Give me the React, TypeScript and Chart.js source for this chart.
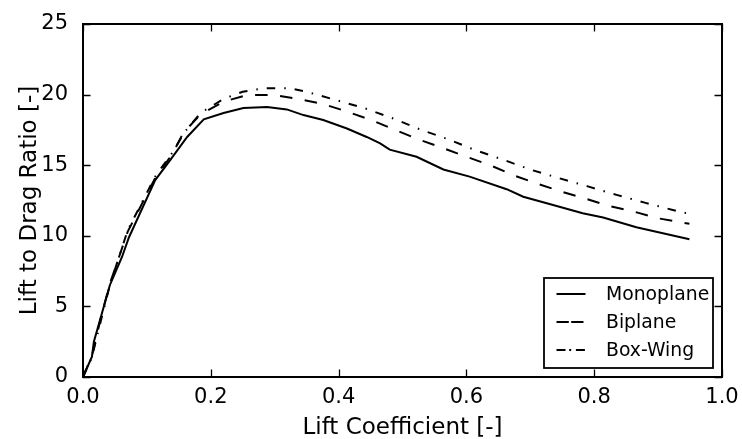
import React, { useEffect, useRef } from "react";
import { Chart, registerables } from "chart.js";

Chart.register(...registerables);

const seriesLabels = ["Monoplane", "Biplane", "Box-Wing"];

const monoX = [0, 0.014, 0.017, 0.042, 0.061, 0.072, 0.113, 0.137, 0.163, 0.189, 0.22, 0.251, 0.288, 0.319, 0.345, 0.376, 0.413, 0.444, 0.465, 0.48, 0.522, 0.564, 0.605, 0.663, 0.689, 0.73, 0.782, 0.814, 0.866, 0.949];
const monoY = [0, 1.44, 2.5, 6.5, 8.5, 9.9, 13.95, 15.4, 17.0, 18.25, 18.7, 19.05, 19.12, 18.95, 18.55, 18.2, 17.6, 17.0, 16.55, 16.1, 15.6, 14.7, 14.19, 13.3, 12.77, 12.25, 11.6, 11.3, 10.6, 9.75];

const biX = [0, 0.014, 0.028, 0.042, 0.07, 0.113, 0.14, 0.157, 0.184, 0.22, 0.257, 0.298, 0.335, 0.376, 0.413, 0.454, 0.486, 0.525, 0.564, 0.6, 0.637, 0.673, 0.71, 0.746, 0.785, 0.824, 0.863, 0.9, 0.949];
const biY = [0, 1.5, 4.2, 6.6, 10.3, 14.1, 15.8, 17.3, 18.6, 19.5, 19.97, 19.97, 19.7, 19.33, 18.8, 18.15, 17.54, 16.83, 16.2, 15.6, 15.0, 14.3, 13.7, 13.17, 12.65, 12.1, 11.7, 11.24, 10.85];

const boxX = [0, 0.014, 0.028, 0.042, 0.07, 0.113, 0.14, 0.16, 0.184, 0.22, 0.25, 0.283, 0.324, 0.35, 0.397, 0.441, 0.486, 0.527, 0.572, 0.613, 0.657, 0.702, 0.746, 0.79, 0.835, 0.879, 0.923, 0.949];
const boxY = [0, 1.4, 4.0, 6.5, 10.4, 14.2, 15.9, 17.4, 18.7, 19.7, 20.2, 20.45, 20.45, 20.2, 19.6, 19.03, 18.3, 17.54, 16.83, 16.08, 15.4, 14.66, 14.07, 13.5, 12.9, 12.35, 11.83, 11.55];

const xTitle = "Lift Coefficient [-]";
const yTitle = "Lift to Drag Ratio [-]";

const FONT = "'DejaVu Sans', Verdana, sans-serif";

const toPoints = (xs: number[], ys: number[]) => xs.map((x, i) => ({ x, y: ys[i] }));

const curveDashes = [[], [12.5, 12.5], [8.5, 9, 1.5, 9]];
const legendDashes = [[], [12.3, 2.4, 12.3], [9, 3.7, 2, 4.7]];

const framePlugin = {
  id: "frameTicks",
  afterDraw(chart: any) {
    const { ctx, chartArea } = chart;
    const { left, right, top, bottom } = chartArea;
    ctx.save();
    ctx.strokeStyle = "#000";
    ctx.lineWidth = 1.3;
    const tl = 7.5;
    const xs = chart.scales.x;
    const ys = chart.scales.y;
    ctx.beginPath();
    xs.ticks.forEach((t: any) => {
      const px = Math.round(xs.getPixelForValue(t.value)) + 0.5;
      ctx.moveTo(px, bottom);
      ctx.lineTo(px, bottom - tl);
      ctx.moveTo(px, top);
      ctx.lineTo(px, top + tl);
    });
    ys.ticks.forEach((t: any) => {
      const py = Math.round(ys.getPixelForValue(t.value)) + 0.5;
      ctx.moveTo(left, py);
      ctx.lineTo(left + tl, py);
      ctx.moveTo(right, py);
      ctx.lineTo(right - tl, py);
    });
    ctx.stroke();
    ctx.lineWidth = 2;
    ctx.strokeRect(left, top, right - left, bottom - top);

    const bw = 169;
    const bh = 90;
    const bx = right - 9 - bw;
    const by = bottom - 9 - bh;
    ctx.fillStyle = "#fff";
    ctx.fillRect(bx, by, bw, bh);
    ctx.lineWidth = 1.8;
    ctx.strokeRect(bx, by, bw, bh);
    ctx.font = `18.8px ${FONT}`;
    ctx.textBaseline = "middle";
    ctx.textAlign = "left";
    chart.data.datasets.forEach((ds: any, i: number) => {
      const cy = by + 16 + i * 28;
      ctx.beginPath();
      ctx.lineWidth = 2;
      ctx.setLineDash(legendDashes[i]);
      ctx.moveTo(bx + 12.5, cy);
      ctx.lineTo(bx + 41.5, cy);
      ctx.stroke();
      ctx.setLineDash([]);
      ctx.fillStyle = "#000";
      ctx.fillText(ds.label, bx + 62, cy + 1);
    });
    ctx.restore();
  },
};

export default function App() {
  const ref = useRef<HTMLCanvasElement | null>(null);
  useEffect(() => {
    if (!ref.current) return;
    const datasets = [
      toPoints(monoX, monoY),
      toPoints(biX, biY),
      toPoints(boxX, boxY),
    ].map((data, i) => ({
      label: seriesLabels[i],
      data,
      borderColor: "#000",
      backgroundColor: "#000",
      borderWidth: 2,
      borderDash: curveDashes[i],
      pointRadius: 0,
      tension: 0,
      fill: false,
    }));
    const chart = new Chart(ref.current, {
      type: "line",
      data: { datasets },
      options: {
        animation: false,
        responsive: false,
        devicePixelRatio: 1,
        layout: { padding: { top: 24, right: 20, left: 0, bottom: 0 } },
        plugins: { legend: { display: false }, tooltip: { enabled: false } },
        scales: {
          x: {
            type: "linear",
            min: 0,
            max: 1,
            grid: { display: false },
            border: { display: false },
            ticks: {
              stepSize: 0.2,
              padding: 0,
              color: "#000",
              font: { family: FONT, size: 21 },
              maxRotation: 0,
              callback: (v: any) => Number(v).toFixed(1),
            },
            title: {
              display: true,
              text: xTitle,
              color: "#000",
              font: { family: FONT, size: 23 },
              padding: { top: 0, bottom: -3 },
            },
            afterFit: (s: any) => {
              s.height = 62;
            },
          },
          y: {
            type: "linear",
            min: 0,
            max: 25,
            grid: { display: false },
            border: { display: false },
            ticks: {
              stepSize: 5,
              padding: 7,
              color: "#000",
              font: { family: FONT, size: 21 },
            },
            title: {
              display: true,
              text: yTitle,
              color: "#000",
              font: { family: FONT, size: 23 },
              padding: { top: 16, bottom: 0 },
            },
            afterFit: (s: any) => {
              s.width = 83;
            },
          },
        },
      },
      plugins: [framePlugin],
    });
    return () => chart.destroy();
  }, []);
  return (
    <div style={{ position: "absolute", left: 0, top: 0, width: 742, height: 439, background: "#fff" }}>
      <canvas ref={ref} width={742} height={439} />
    </div>
  );
}
